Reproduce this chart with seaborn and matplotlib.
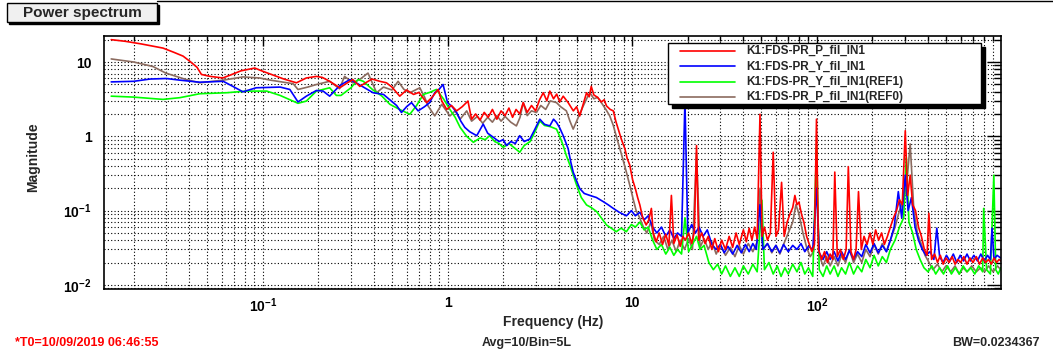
import numpy as np
import pandas as pd
import seaborn as sns
import matplotlib.pyplot as plt
from matplotlib.patches import Rectangle
from matplotlib.ticker import LogLocator, FuncFormatter, NullFormatter

# (frequency Hz, magnitude)
red_pts = [(0.0151, 20), (0.018, 19), (0.022, 17.5), (0.026, 16.2), (0.0288, 15.4), (0.033, 13.5),
           (0.037, 12), (0.0403, 10.2), (0.044, 8.5), (0.0465, 6.8), (0.052, 6.4), (0.0607, 6.1),
           (0.068, 6.8), (0.076, 7.6), (0.0904, 8.3), (0.1, 7.5), (0.115, 6.6), (0.13, 5.9),
           (0.152, 5.25), (0.172, 6.1), (0.195, 6.4), (0.21, 6.2), (0.23, 5.5), (0.261, 4.5),
           (0.285, 5.2), (0.307, 5.8), (0.335, 4.7), (0.36, 5.25), (0.39, 5.9), (0.43, 5.5),
           (0.467, 5.25), (0.5, 4.6), (0.551, 3.47), (0.6, 4.2), (0.655, 3.66), (0.7, 3.9),
           (0.77, 2.84), (0.82, 3.3), (0.89, 4.27), (0.93, 3.0), (0.99, 2.3), (1.05, 2.6),
           (1.12, 2.2), (1.2, 2.5), (1.29, 2.98), (1.35, 1.7), (1.42, 2.0), (1.5, 1.65),
           (1.58, 2.1), (1.66, 1.8), (1.75, 2.3), (1.85, 1.7), (1.95, 2.2), (2.05, 1.9),
           (2.15, 2.4), (2.25, 1.8), (2.35, 2.3), (2.46, 2.0), (2.57, 2.84), (2.7, 2.1),
           (2.85, 2.6), (3.0, 2.2), (3.15, 3.1), (3.3, 3.86), (3.45, 3.0), (3.58, 4.06),
           (3.75, 3.2), (3.9, 3.7), (4.05, 2.9), (4.23, 3.47), (4.5, 2.84), (4.8, 2.2),
           (5.0, 2.5), (5.2, 1.88), (5.45, 2.8), (5.66, 3.86), (5.85, 3.4), (6.0, 4.7),
           (6.2, 3.6), (6.5, 3.34), (6.8, 2.9), (7.05, 3.1), (7.26, 2.56), (7.6, 2.3),
           (7.9, 2.2), (8.15, 1.6), (8.4, 1.25), (8.75, 0.9), (9.13, 0.68), (9.4, 0.5),
           (9.7, 0.41), (10.05, 0.26), (10.4, 0.198), (10.7, 0.15), (11.0, 0.119), (11.4, 0.08),
           (11.9, 0.064), (12.3, 0.075), (12.7, 0.107), (13.0, 0.05), (13.5, 0.038), (14.0, 0.05),
           (14.6, 0.035), (15.2, 0.048), (15.8, 0.034), (16.3, 0.16), (16.8, 0.036), (17.5, 0.047),
           (18.2, 0.033), (18.8, 0.045), (19.4, 0.04), (20.2, 0.05), (21.0, 0.036), (21.7, 0.052),
           (22.3, 0.75), (22.9, 0.04), (23.8, 0.05), (24.8, 0.036), (25.8, 0.045), (27, 0.03),
           (28, 0.042), (29.3, 0.028), (30.5, 0.04), (32, 0.03), (33.5, 0.045), (35, 0.032),
           (36.5, 0.05), (38, 0.035), (40, 0.055), (41.5, 0.038), (43, 0.058), (44.5, 0.04),
           (46, 0.06), (47.5, 0.042), (49.2, 1.98), (50.5, 0.045), (52, 0.06), (54, 0.04),
           (56, 0.05), (58, 0.61), (60, 0.045), (62, 0.055), (64.4, 0.24), (66.5, 0.045),
           (69, 0.07), (71.5, 0.09), (74, 0.11), (76, 0.16), (78, 0.12), (80, 0.13),
           (82.5, 0.09), (85, 0.07), (88, 0.045), (91, 0.035), (94, 0.028), (97, 0.035),
           (99.5, 1.7), (102, 0.03), (106, 0.022), (110, 0.028), (114, 0.02), (118, 0.026),
           (122, 0.022), (125, 0.33), (129, 0.024), (134, 0.03), (139, 0.022), (144, 0.03),
           (148, 0.39), (153, 0.028), (158, 0.022), (163, 0.03), (168, 0.18), (174, 0.03),
           (180, 0.045), (187, 0.035), (194, 0.05), (201, 0.035), (208, 0.055), (216, 0.04),
           (224, 0.05), (232, 0.035), (241, 0.045), (250, 0.06), (260, 0.08), (270, 0.1),
           (280, 0.14), (290, 0.12), (301, 1.19), (310, 0.16), (320, 0.3), (330, 0.12),
           (342, 0.1), (355, 0.06), (368, 0.045), (382, 0.03), (395, 0.025), (404, 0.092),
           (418, 0.022), (434, 0.026), (450, 0.02), (466, 0.025), (483, 0.019), (500, 0.023),
           (520, 0.02), (540, 0.024), (560, 0.019), (580, 0.022), (600, 0.02), (625, 0.024),
           (650, 0.019), (675, 0.023), (700, 0.02), (730, 0.024), (760, 0.019), (790, 0.023),
           (820, 0.02), (850, 0.022), (880, 0.019), (910, 0.023), (940, 0.02), (970, 0.022),
           (990, 0.021)]

blue_pts = [(0.0151, 5.4), (0.02, 5.5), (0.0245, 5.9), (0.03, 6.0), (0.0355, 5.7), (0.0455, 5.35),
            (0.061, 5.5), (0.0688, 4.7), (0.078, 3.97), (0.092, 4.5), (0.124, 4.6), (0.14, 4.27),
            (0.155, 2.9), (0.172, 3.47), (0.195, 4.14), (0.212, 4.06), (0.23, 3.47), (0.261, 4.83),
            (0.296, 5.8), (0.32, 5.25), (0.35, 4.6), (0.395, 3.86), (0.45, 3.66), (0.497, 2.98),
            (0.53, 2.6), (0.563, 2.09), (0.6, 2.5), (0.638, 2.84), (0.693, 2.2), (0.75, 2.5),
            (0.8, 2.84), (0.853, 3.86), (0.9, 4.3), (0.946, 4.98), (1.0, 2.84), (1.06, 2.5),
            (1.12, 2.09), (1.18, 1.6), (1.24, 1.32), (1.32, 1.15), (1.44, 1.02), (1.56, 1.46),
            (1.65, 1.1), (1.77, 0.97), (1.9, 0.85), (2.0, 0.9), (2.09, 0.75), (2.2, 0.85),
            (2.33, 0.8), (2.46, 1.02), (2.6, 0.85), (2.79, 0.92), (2.95, 1.2), (3.16, 1.7),
            (3.35, 1.45), (3.58, 1.38), (3.75, 1.7), (3.89, 1.54), (4.05, 1.3), (4.23, 1.02),
            (4.5, 0.68), (4.65, 0.45), (4.79, 0.33), (5.0, 0.25), (5.2, 0.198), (5.5, 0.17),
            (5.9, 0.16), (6.4, 0.15), (6.97, 0.132), (7.4, 0.12), (7.9, 0.107), (8.5, 0.095),
            (9.3, 0.085), (9.9, 0.1), (10.4, 0.085), (11, 0.095), (11.6, 0.075), (12.2, 0.085),
            (12.9, 0.06), (13.6, 0.05), (14.4, 0.06), (15.2, 0.045), (16.0, 0.055), (16.8, 0.042),
            (17.6, 0.05), (18.5, 0.045), (19.3, 3.0), (20.0, 0.05), (21, 0.065), (22, 0.05),
            (23, 0.06), (24.2, 0.045), (25.5, 0.055), (27, 0.035), (28.5, 0.03), (30, 0.035),
            (31.5, 0.027), (33, 0.033), (35, 0.026), (37, 0.034), (39, 0.027), (41, 0.035),
            (43, 0.028), (45, 0.036), (47, 0.03), (49.2, 0.12), (51, 0.03), (54, 0.036),
            (57, 0.028), (60, 0.034), (63, 0.027), (66, 0.035), (70, 0.028), (74, 0.034),
            (78, 0.03), (82, 0.036), (86, 0.028), (90, 0.033), (95, 0.03), (99.5, 0.2),
            (103, 0.027), (108, 0.022), (113, 0.028), (118, 0.022), (124, 0.028), (130, 0.021),
            (136, 0.028), (143, 0.022), (150, 0.029), (158, 0.022), (166, 0.028), (175, 0.024),
            (184, 0.035), (194, 0.027), (204, 0.036), (215, 0.027), (226, 0.034), (238, 0.028),
            (250, 0.04), (262, 0.06), (276, 0.18), (288, 0.08), (301, 0.3), (312, 0.1),
            (325, 0.15), (340, 0.06), (355, 0.04), (372, 0.03), (390, 0.025), (410, 0.028),
            (430, 0.022), (446, 0.058), (462, 0.024), (482, 0.02), (503, 0.025), (525, 0.021),
            (548, 0.026), (572, 0.02), (597, 0.025), (623, 0.021), (650, 0.026), (678, 0.021),
            (708, 0.025), (740, 0.021), (772, 0.026), (806, 0.021), (840, 0.025), (870, 0.022),
            (888, 0.058), (910, 0.022), (945, 0.025), (990, 0.023)]

green_pts = [(0.0151, 3.47), (0.02, 3.37), (0.0288, 3.14), (0.0355, 3.31), (0.0455, 3.74),
             (0.0637, 3.86), (0.0816, 4.06), (0.105, 4.06), (0.124, 3.55), (0.155, 2.78),
             (0.172, 2.98), (0.195, 4.06), (0.23, 4.5), (0.25, 3.55), (0.265, 3.55), (0.3, 4.5),
             (0.328, 5.8), (0.35, 5.5), (0.395, 4.2), (0.44, 3.5), (0.487, 2.7), (0.55, 2.3),
             (0.625, 1.98), (0.68, 2.6), (0.74, 3.66), (0.8, 3.9), (0.87, 4.27), (0.95, 3.2),
             (1.03, 2.3), (1.1, 1.8), (1.17, 1.32), (1.27, 1.0), (1.38, 0.83), (1.5, 0.95),
             (1.6, 0.9), (1.69, 1.02), (1.8, 0.85), (1.9, 0.8), (2.0, 0.71), (2.15, 0.8),
             (2.3, 0.7), (2.46, 0.61), (2.6, 0.75), (2.8, 0.85), (2.95, 1.1), (3.16, 1.61),
             (3.35, 1.4), (3.6, 1.35), (3.89, 1.25), (4.05, 1.0), (4.23, 0.75), (4.4, 0.55),
             (4.6, 0.41), (4.8, 0.3), (5.0, 0.22), (5.3, 0.15), (5.66, 0.119), (6.0, 0.11),
             (6.42, 0.097), (6.8, 0.08), (7.26, 0.064), (7.7, 0.058), (8.2, 0.052), (8.7, 0.058),
             (9.3, 0.052), (9.9, 0.065), (10.4, 0.06), (11, 0.07), (11.6, 0.055), (12.2, 0.06),
             (12.9, 0.04), (13.6, 0.03), (14.4, 0.035), (15.2, 0.026), (16.0, 0.032), (16.8, 0.025),
             (17.6, 0.03), (18.5, 0.026), (19.3, 0.08), (20.2, 0.028), (21.2, 0.035), (22.3, 0.045),
             (23.3, 0.03), (24.5, 0.034), (26, 0.02), (27.5, 0.016), (29, 0.019), (30.5, 0.014),
             (32, 0.018), (34, 0.013), (36, 0.017), (38, 0.013), (40, 0.018), (42.5, 0.014),
             (45, 0.019), (47.5, 0.015), (50.4, 0.138), (52, 0.016), (55, 0.02), (58, 0.014),
             (61, 0.018), (64, 0.013), (67, 0.017), (70, 0.014), (74, 0.019), (78, 0.015),
             (82, 0.02), (86, 0.014), (90, 0.017), (95, 0.013), (99.5, 0.72), (103, 0.016),
             (108, 0.013), (113, 0.018), (118, 0.014), (124, 0.018), (130, 0.013), (136, 0.017),
             (143, 0.014), (150, 0.02), (158, 0.014), (166, 0.018), (175, 0.015), (184, 0.022),
             (194, 0.017), (204, 0.025), (215, 0.018), (226, 0.024), (238, 0.02), (250, 0.03),
             (265, 0.04), (280, 0.06), (295, 0.08), (305, 0.52), (315, 0.07), (330, 0.05),
             (345, 0.03), (362, 0.022), (380, 0.017), (400, 0.015), (420, 0.018), (440, 0.014),
             (462, 0.017), (485, 0.014), (510, 0.018), (535, 0.014), (562, 0.017), (590, 0.014),
             (620, 0.018), (650, 0.015), (682, 0.017), (716, 0.014), (752, 0.018), (790, 0.015),
             (800, 0.107), (830, 0.016), (870, 0.014), (908, 0.3), (930, 0.016), (960, 0.014),
             (990, 0.017)]

brown_pts = [(0.0151, 11), (0.02, 10), (0.0254, 8.7), (0.0298, 7.1), (0.0385, 5.8), (0.0455, 5.25),
             (0.061, 5.7), (0.078, 6.3), (0.096, 6.1), (0.11, 5.7), (0.146, 5.1), (0.155, 4.27),
             (0.175, 4.6), (0.195, 4.98), (0.23, 5.5), (0.26, 4.37), (0.277, 6.4), (0.307, 5.25),
             (0.34, 6.0), (0.371, 7.1), (0.413, 3.86), (0.45, 4.6), (0.5, 4.2), (0.54, 5.5),
             (0.58, 4.3), (0.625, 3.86), (0.708, 4.5), (0.75, 3.4), (0.785, 2.56), (0.853, 1.88),
             (0.93, 2.7), (1.03, 1.88), (1.1, 2.2), (1.17, 1.7), (1.27, 2.2), (1.35, 1.6),
             (1.45, 1.85), (1.55, 1.5), (1.65, 1.8), (1.75, 1.55), (1.85, 1.9), (1.95, 1.6),
             (2.05, 1.85), (2.2, 1.55), (2.36, 1.38), (2.47, 1.8), (2.57, 2.84), (2.7, 1.9),
             (2.85, 2.2), (3.03, 2.09), (3.2, 2.6), (3.4, 2.3), (3.6, 3.0), (3.89, 2.84),
             (4.1, 2.5), (4.4, 2.2), (4.6, 1.6), (4.79, 1.25), (5.0, 1.6), (5.2, 2.0),
             (5.43, 2.56), (5.7, 3.3), (5.9, 3.86), (6.2, 3.2), (6.5, 3.34), (6.9, 2.7),
             (7.2, 2.3), (7.56, 1.88), (7.9, 1.4), (8.2, 1.0), (8.7, 0.6), (9.3, 0.33),
             (9.7, 0.22), (10.1, 0.146), (10.5, 0.1), (11.0, 0.079), (11.5, 0.06), (12.0, 0.05),
             (12.6, 0.07), (13.2, 0.04), (14, 0.035), (14.8, 0.045), (15.6, 0.03), (16.4, 0.04),
             (17.3, 0.028), (18.2, 0.04), (19.2, 0.03), (20.2, 0.042), (21.2, 0.03), (22.3, 0.6),
             (23.3, 0.032), (24.5, 0.042), (25.8, 0.03), (27, 0.038), (28.5, 0.026), (30, 0.035),
             (32, 0.025), (34, 0.032), (36, 0.024), (38, 0.034), (40, 0.026), (42.5, 0.036),
             (45, 0.028), (47.5, 0.038), (49.2, 0.2), (51, 0.03), (54, 0.036), (57, 0.027),
             (60, 0.034), (63, 0.026), (66, 0.035), (70, 0.05), (74, 0.07), (77, 0.12),
             (80, 0.09), (84, 0.05), (88, 0.032), (92, 0.024), (96, 0.028), (99.5, 0.3),
             (103, 0.025), (108, 0.018), (113, 0.024), (118, 0.018), (124, 0.024), (130, 0.018),
             (136, 0.025), (143, 0.02), (150, 0.03), (158, 0.02), (166, 0.026), (175, 0.02),
             (184, 0.03), (194, 0.024), (204, 0.035), (215, 0.026), (226, 0.036), (238, 0.028),
             (250, 0.04), (265, 0.06), (280, 0.1), (295, 0.14), (305, 0.2), (320, 0.79),
             (335, 0.1), (350, 0.05), (368, 0.035), (385, 0.025), (405, 0.02), (425, 0.016),
             (450, 0.019), (475, 0.015), (500, 0.018), (530, 0.015), (560, 0.018), (590, 0.014),
             (620, 0.017), (650, 0.015), (690, 0.018), (730, 0.015), (770, 0.017), (810, 0.015),
             (850, 0.018), (900, 0.015), (950, 0.018), (990, 0.016)]

names = ['K1:FDS-PR_P_fil_IN1', 'K1:FDS-PR_Y_fil_IN1',
         'K1:FDS-PR_Y_fil_IN1(REF1)', 'K1:FDS-PR_P_fil_IN1(REF0)']
colors = ['#ff0000', '#0000ff', '#00ff00', '#8b6b5f']
series = [red_pts, blue_pts, green_pts, brown_pts]

sns.set_style("white")
plt.rcParams['font.family'] = ['Liberation Sans', 'DejaVu Sans']
plt.rcParams['font.weight'] = 'bold'
plt.rcParams['mathtext.fontset'] = 'custom'
plt.rcParams['mathtext.bf'] = 'Liberation Sans:bold'
plt.rcParams['mathtext.rm'] = 'Liberation Sans:bold'
plt.rcParams['mathtext.default'] = 'bf'

W, H = 1053, 353
fig = plt.figure(figsize=(W / 100, H / 100), dpi=100)
ax = fig.add_axes([104 / W, 1 - 289 / H, (1001 - 104) / W, (289 - 36) / H])

# reference traces first, live ones drawn on top
for i in [3, 2, 1, 0]:
    df = pd.DataFrame(series[i], columns=['freq', 'mag'])
    sns.lineplot(x='freq', y='mag', data=df, ax=ax, color=colors[i], linewidth=1.2,
                 estimator=None, sort=False)

ax.set_xscale('log')
ax.set_yscale('log')
ax.set_xlim(0.0138, 993)
ax.set_ylim(0.0088, 22.4)


def logfmt(v, pos):
    e = int(round(np.log10(v)))
    if e == 0:
        return '1'
    if e == 1:
        return '10'
    return r'$10^{%d}$' % e


for a in (ax.xaxis, ax.yaxis):
    a.set_major_locator(LogLocator(base=10, numticks=20))
    a.set_minor_locator(LogLocator(base=10, subs=range(2, 10), numticks=20))
    a.set_major_formatter(FuncFormatter(logfmt))
    a.set_minor_formatter(NullFormatter())

ax.grid(which='both', color='black', linestyle=(0, (1, 2)), linewidth=0.8)
ax.tick_params(which='both', direction='in', top=True, right=True, colors='black',
               labelsize=10, width=1)
ax.tick_params(axis='y', which='major', length=10, pad=9)
ax.tick_params(axis='y', which='minor', length=5)
ax.tick_params(axis='x', which='major', length=7, pad=5)
ax.tick_params(axis='x', which='minor', length=3.5)
for lbl in ax.get_xticklabels() + ax.get_yticklabels():
    lbl.set_fontweight('bold')
for s in ax.spines.values():
    s.set_visible(True)
    s.set_color('black')
    s.set_linewidth(1.2)
ax.set_xlabel('')
ax.set_ylabel('')

# overlay in pixel coordinates for the boxes and footer texts
ov = fig.add_axes([0, 0, 1, 1], zorder=10)
ov.set_xlim(0, W)
ov.set_ylim(H, 0)
ov.axis('off')
ov.patch.set_alpha(0)

ov.plot([157, W], [0.5, 0.5], color='black', linewidth=1)
ov.add_patch(Rectangle((9, 5), 150, 19, facecolor='black', edgecolor='black'))
ov.add_patch(Rectangle((7, 2.7), 150, 19, facecolor='#f0f0f0', edgecolor='black', linewidth=1))
ov.text(82, 12.5, 'Power spectrum', ha='center', va='center', fontsize=11, fontweight='bold')

ov.add_patch(Rectangle((672, 47), 312.7, 61, facecolor='black', edgecolor='black'))
ov.add_patch(Rectangle((668, 43), 312.7, 61, facecolor='white', edgecolor='black', linewidth=1))
for k, yy in enumerate([51, 66.4, 81.8, 97.2]):
    ov.plot([680, 735], [yy, yy], color=colors[k], linewidth=1.2)
    ov.text(746, yy, names[k], ha='left', va='center', fontsize=8.5, fontweight='bold')

ov.text(553, 322, 'Frequency (Hz)', ha='center', va='center', fontsize=10, fontweight='bold')
ov.text(33, 157, 'Magnitude', ha='center', va='center', rotation=90, fontsize=10,
        fontweight='bold')
ov.text(15, 343, '*T0=10/09/2019 06:46:55', ha='left', va='center', fontsize=9,
        fontweight='bold', color='#ff0000')
ov.text(527, 343, 'Avg=10/Bin=5L', ha='center', va='center', fontsize=9, fontweight='bold')
ov.text(1040, 343, 'BW=0.0234367', ha='right', va='center', fontsize=9, fontweight='bold')

fig.savefig('out.png', dpi=100)
